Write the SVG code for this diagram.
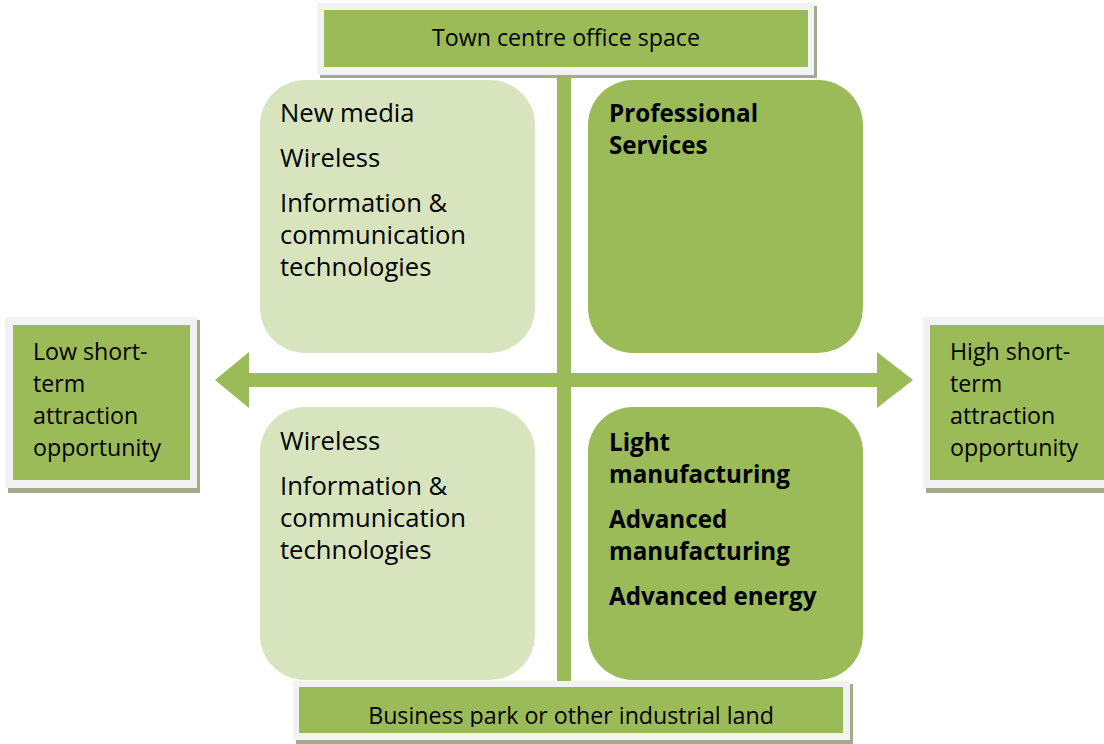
<svg xmlns="http://www.w3.org/2000/svg" width="1104" height="744" viewBox="0 0 1104 744">
  <defs>
    <style>
      .t { font-family: "Open Sans", "Liberation Sans", sans-serif; fill: #000; }
      .q { font-size: 25.6px; }
      .qb { font-size: 24.2px; font-weight: bold; }
      .lab { font-size: 23.2px; }
      .side { font-size: 23.2px; }
      .frame { fill: #F2F2F2; }
      .shadow { fill: #A3AB8C; }
      .green { fill: #9BBB59; }
      .light { fill: #D7E4BD; }
    </style>
    <clipPath id="bottomClip">
      <rect x="299" y="687" width="544" height="40"/>
    </clipPath>
  </defs>
  <rect width="1104" height="744" fill="#fff"/>

  <!-- quadrants -->
  <g id="q-top-left">
    <rect class="light" x="260" y="80" width="275" height="273" rx="45"/>
    <text class="t q" x="280" y="122">New media</text>
    <text class="t q" x="280" y="167">Wireless</text>
    <text class="t q" x="280" y="212">Information &amp;</text>
    <text class="t q" x="280" y="244">communication</text>
    <text class="t q" x="280" y="276">technologies</text>
  </g>
  <g id="q-top-right">
    <rect class="green" x="588" y="80" width="275" height="273" rx="45"/>
    <text class="t qb" x="609" y="122">Professional</text>
    <text class="t qb" x="609" y="154">Services</text>
  </g>
  <g id="q-bottom-left">
    <rect class="light" x="260" y="407" width="275" height="273" rx="45"/>
    <text class="t q" x="280" y="450">Wireless</text>
    <text class="t q" x="280" y="495">Information &amp;</text>
    <text class="t q" x="280" y="527">communication</text>
    <text class="t q" x="280" y="559">technologies</text>
  </g>
  <g id="q-bottom-right">
    <rect class="green" x="588" y="407" width="275" height="273" rx="45"/>
    <text class="t qb" x="609" y="451">Light</text>
    <text class="t qb" x="609" y="483">manufacturing</text>
    <text class="t qb" x="609" y="528">Advanced</text>
    <text class="t qb" x="609" y="560">manufacturing</text>
    <text class="t qb" x="609" y="605">Advanced energy</text>
  </g>

  <!-- axes -->
  <g id="connectors">
    <rect class="green" x="557" y="72" width="14" height="612"/>
    <polygon class="green" points="215,380 249,352 249,373 877,373 877,352 913,380 877,408 877,387 249,387 249,408"/>
  </g>

  <!-- axis labels -->
  <g id="label-top">
    <rect class="shadow" x="320" y="6" width="497" height="72"/>
    <rect class="frame" x="317" y="3" width="497" height="72"/>
    <rect class="green" x="324" y="10" width="484" height="57"/>
    <text class="t lab" x="566" y="46" text-anchor="middle">Town centre office space</text>
  </g>
  <g id="label-left">
    <rect class="shadow" x="8" y="320" width="192" height="173"/>
    <rect class="frame" x="5" y="317" width="192" height="171"/>
    <rect class="green" x="13" y="325" width="177" height="155"/>
    <text class="t side" x="33" y="360">Low short-</text>
    <text class="t side" x="33" y="392">term</text>
    <text class="t side" x="33" y="424">attraction</text>
    <text class="t side" x="33" y="456">opportunity</text>
  </g>
  <g id="label-right">
    <rect class="shadow" x="926" y="320" width="190" height="173"/>
    <rect class="frame" x="923" y="317" width="190" height="171"/>
    <rect class="green" x="930" y="325" width="180" height="155"/>
    <text class="t side" x="950" y="360">High short-</text>
    <text class="t side" x="950" y="392">term</text>
    <text class="t side" x="950" y="424">attraction</text>
    <text class="t side" x="950" y="456">opportunity</text>
  </g>
  <g id="label-bottom">
    <rect class="shadow" x="296" y="684" width="557" height="60"/>
    <rect class="frame" x="293" y="681" width="557" height="59"/>
    <rect class="green" x="299" y="687" width="544" height="46"/>
    <text class="t lab" x="571" y="724" text-anchor="middle" clip-path="url(#bottomClip)">Business park or other industrial land</text>
  </g>
</svg>
